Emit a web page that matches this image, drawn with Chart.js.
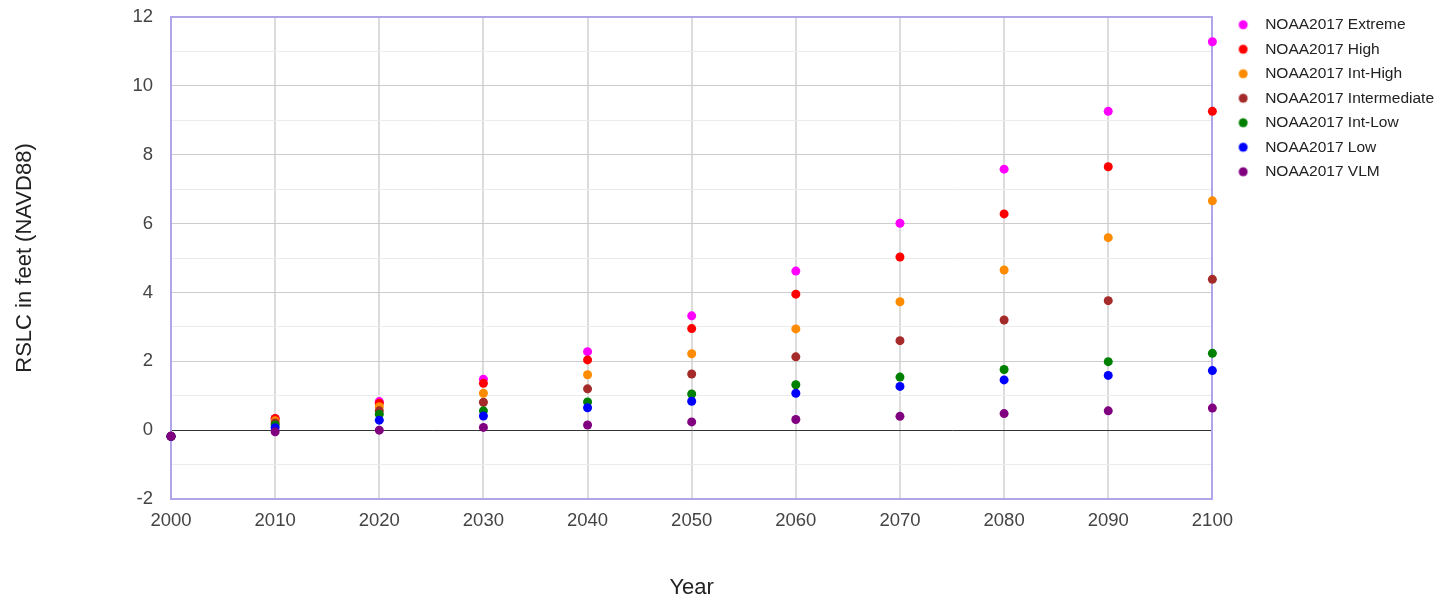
<!DOCTYPE html>
<html>
<head>
<meta charset="utf-8">
<title>RSLC projections</title>
<script src="https://cdn.jsdelivr.net/npm/chart.js"></script>
<style>
    body { margin: 0; background: #fff; }
    #wrap { width: 1452px; height: 602px; position: relative; }
</style>
</head>
<body>
<div id="wrap"><canvas id="rslcChart"></canvas></div>
<script>
const years = [2000, 2010, 2020, 2030, 2040, 2050, 2060, 2070, 2080, 2090, 2100];

const seriesNames = [
    "NOAA2017 Extreme",
    "NOAA2017 High",
    "NOAA2017 Int-High",
    "NOAA2017 Intermediate",
    "NOAA2017 Int-Low",
    "NOAA2017 Low",
    "NOAA2017 VLM"
];
const seriesColors = ["#ff00ff", "#ff0000", "#ff8c00", "#a52a2a", "#008000", "#0000ff", "#800080"];

const extreme      = [-0.18, 0.33, 0.83, 1.48, 2.28, 3.32, 4.62, 6.01, 7.58, 9.26, 11.28];
const high         = [-0.18, 0.34, 0.78, 1.36, 2.04, 2.95, 3.95, 5.03, 6.28, 7.65, 9.26];
const intHigh      = [-0.18, 0.27, 0.68, 1.07, 1.61, 2.22, 2.94, 3.73, 4.65, 5.59, 6.66];
const intermediate = [-0.18, 0.21, 0.56, 0.81, 1.20, 1.63, 2.13, 2.60, 3.20, 3.76, 4.38];
const intLow       = [-0.18, 0.15, 0.46, 0.56, 0.82, 1.05, 1.32, 1.54, 1.76, 1.99, 2.23];
const low          = [-0.18, 0.07, 0.29, 0.41, 0.65, 0.84, 1.07, 1.27, 1.46, 1.59, 1.73];
const vlm          = [-0.18, -0.05, 0.00, 0.08, 0.15, 0.24, 0.31, 0.40, 0.48, 0.56, 0.64];

const seriesValues = [extreme, high, intHigh, intermediate, intLow, low, vlm];

const frameColor = "#aea6e8";
const fontFamily = "'Liberation Sans', Arial, sans-serif";

// small canvas used as legend marker, so the dot sits further left of the text
function makeDot(color) {
    const c = document.createElement("canvas");
    c.width = 30;
    c.height = 16;
    const g = c.getContext("2d");
    g.fillStyle = color;
    g.beginPath();
    g.arc(7.75, 8, 4.5, 0, Math.PI * 2);
    g.fill();
    return c;
}

const datasets = seriesNames.map((name, i) => ({
    label: name,
    data: years.map((yr, j) => ({ x: yr, y: seriesValues[i][j] })),
    backgroundColor: seriesColors[i],
    borderColor: seriesColors[i],
    pointRadius: 4.5,
    pointHoverRadius: 6,
    pointBorderWidth: 0,
    showLine: false,
    clip: false,
    order: seriesNames.length - 1 - i   // later series drawn on top
}));

const ctx = document.getElementById("rslcChart").getContext("2d");
const rslcChart = new Chart(ctx, {
    type: "scatter",
    data: { datasets: datasets },
    options: {
        responsive: true,
        maintainAspectRatio: false,
        animation: false,
        layout: { padding: { top: 8, right: 8, bottom: 0, left: 0 } },
        plugins: {
            tooltip: { enabled: true },
            legend: {
                position: "right",
                align: "start",
                labels: {
                    color: "#222",
                    font: { family: fontFamily, size: 15.5 },
                    padding: 9,
                    boxWidth: 14,
                    usePointStyle: true,
                    generateLabels: function(chart) {
                        const items = Chart.defaults.plugins.legend.labels.generateLabels(chart);
                        items.sort((a, b) => a.datasetIndex - b.datasetIndex);
                        items.forEach(item => {
                            item.pointStyle = makeDot(seriesColors[item.datasetIndex]);
                        });
                        return items;
                    }
                }
            }
        },
        scales: {
            x: {
                type: "linear",
                min: 2000,
                max: 2100,
                ticks: {
                    stepSize: 10,
                    color: "#444",
                    padding: 11,
                    font: { family: fontFamily, size: 18.5 },
                    callback: v => String(v)
                },
                grid: {
                    drawTicks: false,
                    lineWidth: 2,
                    color: c => (c.tick && (c.tick.value === 2000 || c.tick.value === 2100)) ? "rgba(0,0,0,0)" : "#dcdcdc"
                },
                border: { display: true, color: frameColor, width: 2 },
                title: {
                    display: true,
                    text: "Year",
                    color: "#222",
                    font: { family: fontFamily, size: 22 },
                    padding: { top: 0, bottom: 1 }
                },
                afterFit: scale => { scale.height = 103; }
            },
            y: {
                min: -2,
                max: 12,
                ticks: {
                    stepSize: 1,
                    color: "#444",
                    padding: 18,
                    font: { family: fontFamily, size: 18.5 },
                    callback: v => (v % 2 === 0 ? String(v) : "")
                },
                grid: {
                    drawTicks: false,
                    lineWidth: c => {
                        const v = c.tick ? c.tick.value : 1;
                        return v === 12 ? 2 : 1;
                    },
                    color: c => {
                        const v = c.tick ? c.tick.value : 1;
                        if (v === 12) return frameColor;
                        if (v === -2) return "rgba(0,0,0,0)";
                        if (v === 0) return "#333";
                        return v % 2 === 0 ? "#cccccc" : "#ebebeb";
                    }
                },
                border: { display: true, color: frameColor, width: 2 },
                title: {
                    display: true,
                    text: "RSLC in feet (NAVD88)",
                    color: "#222",
                    font: { family: fontFamily, size: 22 },
                    padding: { top: 12, bottom: 0 }
                },
                afterFit: scale => {
                    scale.width = 171;
                    scale.paddingTop = 17;
                }
            },
            // empty axis on the right: draws the right frame and leaves a gap before the legend
            yRight: {
                type: "linear",
                position: "right",
                display: true,
                ticks: { display: false },
                grid: { display: false, drawTicks: false },
                border: { display: true, color: frameColor, width: 2 },
                afterFit: scale => { scale.width = 22; }
            }
        }
    }
});
</script>
</body>
</html>
